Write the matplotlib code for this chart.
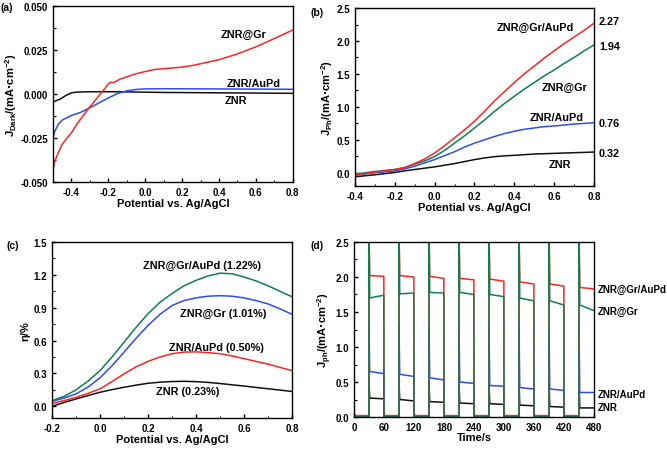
import numpy as np
import matplotlib
matplotlib.use("Agg")
import matplotlib.pyplot as plt
from matplotlib.ticker import AutoMinorLocator, FormatStrFormatter

plt.rcParams['font.family'] = ['Liberation Sans', 'DejaVu Sans']
plt.rcParams['font.weight'] = 'bold'
plt.rcParams['axes.labelweight'] = 'bold'

RED = '#ff2424'
BLUE = '#2e4cf0'
GREEN = '#0f7f4f'
BLACK = '#111111'

# ---------------- (a) dark current ----------------
a_gr_x = [-0.5, -0.49, -0.47, -0.45, -0.42, -0.4, -0.37, -0.34, -0.31, -0.28, -0.25, -0.22, -0.2, -0.19, -0.17,
          -0.14, -0.1, -0.05, 0.0, 0.05, 0.1, 0.2, 0.26, 0.3, 0.4, 0.5, 0.6, 0.7, 0.8]
a_gr_y = [-0.0428, -0.038, -0.033, -0.0285, -0.0245, -0.022, -0.017, -0.0128, -0.0085, -0.0047, -0.0008, 0.003,
          0.0058, 0.0066, 0.0066, 0.0083, 0.0098, 0.0115, 0.0128, 0.0139, 0.0144, 0.0153, 0.0163, 0.0172, 0.0195,
          0.0228, 0.0268, 0.0315, 0.0364]
a_aupd_x = [-0.5, -0.49, -0.47, -0.45, -0.42, -0.4, -0.35, -0.3, -0.25, -0.2, -0.15, -0.1, -0.05, 0.0, 0.1, 0.4, 0.8]
a_aupd_y = [-0.0248, -0.021, -0.017, -0.0148, -0.0132, -0.0122, -0.0104, -0.0078, -0.005, -0.0022, 0.0003, 0.0018,
            0.0026, 0.0029, 0.003, 0.0029, 0.0027]
a_znr_x = [-0.5, -0.46, -0.43, -0.4, -0.37, -0.3, -0.15, 0.1, 0.8]
a_znr_y = [-0.0045, -0.0028, -0.0008, 0.0007, 0.0011, 0.0013, 0.0013, 0.0009, 0.0004]

# ---------------- (b) photocurrent LSV ----------------
b_x = [-0.4, -0.3, -0.2, -0.15, -0.1, -0.05, 0.0, 0.05, 0.1, 0.15, 0.2, 0.25, 0.3, 0.35, 0.4, 0.45, 0.5, 0.55,
       0.6, 0.65, 0.7, 0.75, 0.8]
b_gr_aupd = [-0.036, 0.01, 0.05, 0.08, 0.14, 0.21, 0.30, 0.41, 0.53, 0.65, 0.78, 0.93, 1.09, 1.23, 1.37, 1.50,
             1.62, 1.74, 1.85, 1.96, 2.06, 2.16, 2.27]
b_gr = [-0.02, 0.02, 0.05, 0.08, 0.13, 0.18, 0.245, 0.34, 0.45, 0.56, 0.68, 0.80, 0.93, 1.05, 1.16, 1.27, 1.37,
        1.47, 1.56, 1.66, 1.75, 1.85, 1.94]
b_aupd = [-0.036, 0.0, 0.03, 0.06, 0.10, 0.15, 0.20, 0.26, 0.32, 0.39, 0.45, 0.50, 0.55, 0.595, 0.63, 0.66, 0.68,
          0.70, 0.71, 0.725, 0.74, 0.75, 0.76]
b_znr = [-0.06, -0.03, 0.005, 0.03, 0.05, 0.07, 0.09, 0.115, 0.14, 0.17, 0.20, 0.225, 0.245, 0.257, 0.265, 0.275,
         0.285, 0.29, 0.295, 0.30, 0.305, 0.31, 0.315]
b_end_labels = ['2.27', '1.94', '0.76', '0.32']

# ---------------- (c) efficiency ----------------
c_x = [-0.2, -0.15, -0.1, -0.05, 0.0, 0.05, 0.1, 0.15, 0.2, 0.25, 0.3, 0.35, 0.4, 0.45, 0.5, 0.55, 0.6, 0.65,
       0.7, 0.75, 0.8]
c_gr_aupd = [0.052, 0.09, 0.15, 0.23, 0.326, 0.45, 0.585, 0.72, 0.845, 0.95, 1.03, 1.10, 1.15, 1.19, 1.215, 1.21,
             1.18, 1.145, 1.10, 1.05, 1.0]
c_gr = [0.046, 0.075, 0.113, 0.175, 0.26, 0.37, 0.494, 0.62, 0.738, 0.84, 0.92, 0.965, 0.99, 1.005, 1.01, 1.005,
        0.99, 0.965, 0.935, 0.89, 0.84]
c_aupd = [0.027, 0.052, 0.082, 0.118, 0.159, 0.225, 0.296, 0.36, 0.41, 0.45, 0.48, 0.495, 0.497, 0.49, 0.48, 0.46,
          0.435, 0.41, 0.385, 0.355, 0.326]
c_znr = [0.0, 0.035, 0.067, 0.098, 0.128, 0.152, 0.174, 0.193, 0.21, 0.22, 0.226, 0.228, 0.225, 0.218, 0.208,
         0.196, 0.185, 0.172, 0.16, 0.148, 0.135]

# ---------------- (d) chopped light ----------------
d_on = [30, 90, 150, 210, 270, 330, 390, 450]
d_off = [60, 120, 180, 240, 300, 360, 420, 480]
d_gr_aupd_start = [2.02, 2.02, 2.01, 1.98, 1.97, 1.93, 1.90, 1.85]
d_gr_aupd_end = [2.01, 2.00, 1.98, 1.96, 1.94, 1.90, 1.87, 1.83]
d_gr_start = [1.70, 1.76, 1.78, 1.78, 1.75, 1.70, 1.66, 1.60]
d_gr_end = [1.74, 1.77, 1.77, 1.75, 1.72, 1.66, 1.60, 1.52]
d_aupd_start = [0.65, 0.61, 0.56, 0.50, 0.45, 0.42, 0.40, 0.35]
d_aupd_end = [0.62, 0.58, 0.53, 0.48, 0.44, 0.40, 0.38, 0.35]
d_znr_start = [0.27, 0.25, 0.22, 0.20, 0.19, 0.17, 0.15, 0.13]
d_znr_end = [0.26, 0.23, 0.21, 0.19, 0.18, 0.16, 0.14, 0.13]
d_peak = {'gr_aupd': 2.7, 'gr': 2.7, 'aupd': 1.3, 'znr': 0.5}
d_base = {'gr_aupd': 0.02, 'gr': 0.0, 'aupd': 0.0, 'znr': 0.0}


def chopped(start, end, peak, base):
    t, v = [0, 0.3, 3], [peak, base + 0.03, base]
    for on, off, s, e in zip(d_on, d_off, start, end):
        t += [on, on, on + 1.5, off - 0.3]
        v += [base, peak, s, e]
        if off < d_off[-1]:
            t += [off, off + 0.5]
            v += [-0.3, base]
    return t, v


fig = plt.figure(figsize=(6.67, 4.52), dpi=100)
axa = fig.add_axes([0.0795, 0.595, 0.3595, 0.3895])
axb = fig.add_axes([0.532, 0.5863, 0.3586, 0.3937])
axc = fig.add_axes([0.078, 0.073, 0.3598, 0.3894])
axd = fig.add_axes([0.5307, 0.0752, 0.3599, 0.3872])

TICK_FS = 7
LAB_FS = 8
ANN_FS = 7.8


def style(ax, minor=True):
    for s in ax.spines.values():
        s.set_linewidth(1.0)
    ax.tick_params(which='both', direction='in', top=False, right=False, labelsize=TICK_FS)
    ax.tick_params(which='major', length=3, width=1.0)
    ax.tick_params(which='minor', length=1.8, width=0.8)
    if minor:
        ax.xaxis.set_minor_locator(AutoMinorLocator(2))
        ax.yaxis.set_minor_locator(AutoMinorLocator(2))
    for lab in ax.get_xticklabels() + ax.get_yticklabels():
        lab.set_fontweight('bold')


LW = 1.1
# (a)
axa.plot(a_znr_x, a_znr_y, color=BLACK, lw=LW)
axa.plot(a_aupd_x, a_aupd_y, color=BLUE, lw=LW)
axa.plot(a_gr_x, a_gr_y, color=RED, lw=LW)
axa.set_xlim(-0.5, 0.8)
axa.set_ylim(-0.05, 0.05)
axa.set_xticks([-0.4, -0.2, 0.0, 0.2, 0.4, 0.6, 0.8])
axa.set_yticks([-0.05, -0.025, 0.0, 0.025, 0.05])
axa.yaxis.set_major_formatter(FormatStrFormatter('%.3f'))
axa.xaxis.set_major_formatter(FormatStrFormatter('%.1f'))
axa.set_xlabel('Potential vs. Ag/AgCl', fontsize=LAB_FS, labelpad=1)
axa.set_ylabel(r'J$_{\mathregular{Dark}}$/(mA$\cdot$cm$^{\mathregular{-2}}$)', fontsize=LAB_FS, labelpad=1)
style(axa)
axa.text(0.53, 0.034, 'ZNR@Gr', fontsize=ANN_FS, fontweight='bold', ha='center', va='center')
axa.text(0.59, 0.0062, 'ZNR/AuPd', fontsize=ANN_FS, fontweight='bold', ha='center', va='center')
axa.text(0.49, -0.0036, 'ZNR', fontsize=ANN_FS, fontweight='bold', ha='center', va='center')

# (b)
axb.plot(b_x, b_znr, color=BLACK, lw=LW)
axb.plot(b_x, b_aupd, color=BLUE, lw=LW)
axb.plot(b_x, b_gr, color=GREEN, lw=LW)
axb.plot(b_x, b_gr_aupd, color=RED, lw=LW)
axb.set_xlim(-0.4, 0.8)
axb.set_ylim(-0.2, 2.5)
axb.set_xticks([-0.4, -0.2, 0.0, 0.2, 0.4, 0.6, 0.8])
axb.set_yticks([0.0, 0.5, 1.0, 1.5, 2.0, 2.5])
axb.xaxis.set_major_formatter(FormatStrFormatter('%.1f'))
axb.yaxis.set_major_formatter(FormatStrFormatter('%.1f'))
axb.set_xlabel('Potential vs. Ag/AgCl', fontsize=LAB_FS, labelpad=1)
axb.set_ylabel(r'J$_{\mathregular{Ph}}$/(mA$\cdot$cm$^{\mathregular{-2}}$)', fontsize=LAB_FS, labelpad=1)
style(axb)
axb.text(0.505, 2.22, 'ZNR@Gr/AuPd', fontsize=ANN_FS, fontweight='bold', ha='center', va='center')
axb.text(0.653, 1.31, 'ZNR@Gr', fontsize=ANN_FS, fontweight='bold', ha='center', va='center')
axb.text(0.611, 0.84, 'ZNR/AuPd', fontsize=ANN_FS, fontweight='bold', ha='center', va='center')
axb.text(0.631, 0.14, 'ZNR', fontsize=ANN_FS, fontweight='bold', ha='center', va='center')
for lbl, yv in zip(b_end_labels, [2.30, 1.93, 0.755, 0.306]):
    axb.text(0.825, yv, lbl, fontsize=ANN_FS, fontweight='bold', ha='left', va='center', clip_on=False)

# (c)
axc.plot(c_x, c_znr, color=BLACK, lw=LW)
axc.plot(c_x, c_aupd, color=RED, lw=LW)
axc.plot(c_x, c_gr, color=BLUE, lw=LW)
axc.plot(c_x, c_gr_aupd, color=GREEN, lw=LW)
axc.set_xlim(-0.2, 0.8)
axc.set_ylim(-0.107, 1.5)
axc.set_xticks([-0.2, 0.0, 0.2, 0.4, 0.6, 0.8])
axc.set_yticks([0.0, 0.3, 0.6, 0.9, 1.2, 1.5])
axc.xaxis.set_major_formatter(FormatStrFormatter('%.1f'))
axc.yaxis.set_major_formatter(FormatStrFormatter('%.1f'))
axc.set_xlabel('Potential vs. Ag/AgCl', fontsize=LAB_FS, labelpad=1)
axc.set_ylabel('η/%', fontsize=LAB_FS, labelpad=2)
style(axc)
axc.text(0.425, 1.287, 'ZNR@Gr/AuPd (1.22%)', fontsize=ANN_FS, fontweight='bold', ha='center', va='center')
axc.text(0.513, 0.85, 'ZNR@Gr (1.01%)', fontsize=ANN_FS, fontweight='bold', ha='center', va='center')
axc.text(0.485, 0.54, 'ZNR/AuPd (0.50%)', fontsize=ANN_FS, fontweight='bold', ha='center', va='center')
axc.text(0.367, 0.143, 'ZNR (0.23%)', fontsize=ANN_FS, fontweight='bold', ha='center', va='center')

# (d)
series_d = [
    ('znr', d_znr_start, d_znr_end, BLACK),
    ('aupd', d_aupd_start, d_aupd_end, BLUE),
    ('gr_aupd', d_gr_aupd_start, d_gr_aupd_end, RED),
    ('gr', d_gr_start, d_gr_end, GREEN),
]
for key, s, e, col in series_d:
    t, v = chopped(s, e, d_peak[key], d_base[key])
    axd.plot(t, v, color=col, lw=LW)
axd.set_xlim(0, 480)
axd.set_ylim(0, 2.5)
axd.set_xticks([0, 60, 120, 180, 240, 300, 360, 420, 480])
axd.set_yticks([0.0, 0.5, 1.0, 1.5, 2.0, 2.5])
axd.yaxis.set_major_formatter(FormatStrFormatter('%.1f'))
axd.set_xlabel('Time/s', fontsize=LAB_FS, labelpad=0)
axd.set_ylabel(r'J$_{\mathregular{ph}}$/(mA$\cdot$cm$^{\mathregular{-2}}$)', fontsize=LAB_FS, labelpad=1)
style(axd)
D_FS = 7.0
axd.text(487, 1.833, 'ZNR@Gr/AuPd', fontsize=D_FS, fontweight='bold', ha='left', va='center', clip_on=False)
axd.text(487, 1.514, 'ZNR@Gr', fontsize=D_FS, fontweight='bold', ha='left', va='center', clip_on=False)
axd.text(487, 0.324, 'ZNR/AuPd', fontsize=D_FS, fontweight='bold', ha='left', va='center', clip_on=False)
axd.text(487, 0.138, 'ZNR', fontsize=D_FS, fontweight='bold', ha='left', va='center', clip_on=False)

# panel letters
for x, y, s in [(7, 8, '(a)'), (317, 13, '(b)'), (13, 246, '(c)'), (317, 246, '(d)')]:
    fig.text(x / 667, 1 - y / 452, s, fontsize=7.5, fontweight='bold', ha='center', va='center')

fig.savefig('out.png', dpi=100)
